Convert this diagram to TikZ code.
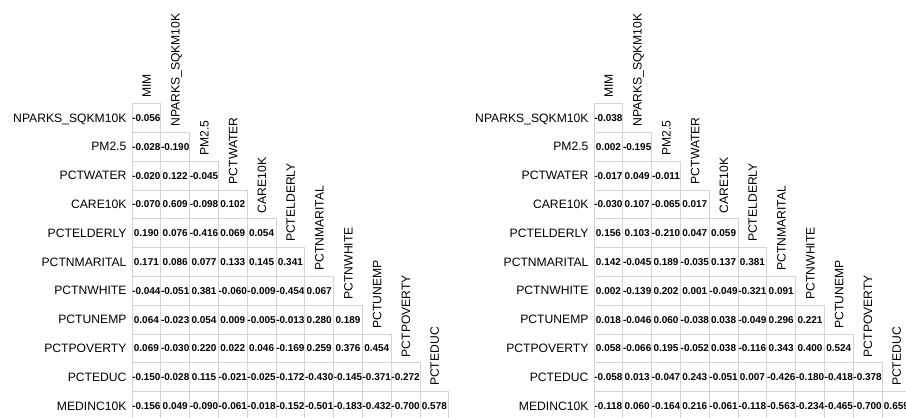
\documentclass[tikz,border=0pt]{standalone}
\usepackage{fontspec}
\setmainfont{Liberation Sans}
\definecolor{gridgray}{HTML}{D4D4D4}
\newcommand\rowlabellist{NPARKS\_SQKM10K,PM2.5,PCTWATER,CARE10K,PCTELDERLY,PCTNMARITAL,PCTNWHITE,PCTUNEMP,PCTPOVERTY,PCTEDUC,MEDINC10K}
\newcommand\collabellist{MIM,NPARKS\_SQKM10K,PM2.5,PCTWATER,CARE10K,PCTELDERLY,PCTNMARITAL,PCTNWHITE,PCTUNEMP,PCTPOVERTY,PCTEDUC}
\newcommand\corrmatrix[3]{%
  \foreach \lab [count=\i from 0] in \rowlabellist {
    \node[rowlbl] (#1-r\i) at ({#2-5.3},{103.6+28.8*\i+18.4}) {\lab};
  }
  \foreach \lab [count=\j from 0] in \collabellist {
    \node[collbl] (#1-c\j) at ({#2+28.8*\j+18.9},{103.6+28.8*\j-5.5}) {\lab};
  }
  \foreach \row [count=\i from 0] in {#3} {
    \foreach \v [count=\j from 0] in \row {
      \node[cellbox] (#1-\i-\j) at ({#2+28.8*\j+14.4},{103.6+28.8*\i+14.4}) {\makebox[0pt]{\v}};
    }
  }
}
\begin{document}
\begin{tikzpicture}[x=1bp,y=-1bp,
  cellbox/.style={draw=gridgray, line width=0.8bp, minimum width=28.8bp, minimum height=28.8bp, inner sep=0pt, font=\bfseries\fontsize{10}{11}\selectfont},
  rowlbl/.style={anchor=base east, inner sep=0pt, font=\fontsize{12.2}{14}\selectfont},
  collbl/.style={anchor=base west, rotate=90, inner sep=0pt, font=\fontsize{12.2}{14}\selectfont}]
\useasboundingbox (0,0) rectangle (906,417);
\corrmatrix{L}{132}{{-0.056},{-0.028,-0.190},{-0.020,0.122,-0.045},{-0.070,0.609,-0.098,0.102},{0.190,0.076,-0.416,0.069,0.054},{0.171,0.086,0.077,0.133,0.145,0.341},{-0.044,-0.051,0.381,-0.060,-0.009,-0.454,0.067},{0.064,-0.023,0.054,0.009,-0.005,-0.013,0.280,0.189},{0.069,-0.030,0.220,0.022,0.046,-0.169,0.259,0.376,0.454},{-0.150,-0.028,0.115,-0.021,-0.025,-0.172,-0.430,-0.145,-0.371,-0.272},{-0.156,0.049,-0.090,-0.061,-0.018,-0.152,-0.501,-0.183,-0.432,-0.700,0.578}}
\corrmatrix{R}{594}{{-0.038},{0.002,-0.195},{-0.017,0.049,-0.011},{-0.030,0.107,-0.065,0.017},{0.156,0.103,-0.210,0.047,0.059},{0.142,-0.045,0.189,-0.035,0.137,0.381},{0.002,-0.139,0.202,0.001,-0.049,-0.321,0.091},{0.018,-0.046,0.060,-0.038,0.038,-0.049,0.296,0.221},{0.058,-0.066,0.195,-0.052,0.038,-0.116,0.343,0.400,0.524},{-0.058,0.013,-0.047,0.243,-0.051,0.007,-0.426,-0.180,-0.418,-0.378},{-0.118,0.060,-0.164,0.216,-0.061,-0.118,-0.563,-0.234,-0.465,-0.700,0.659}}
\end{tikzpicture}
\end{document}
